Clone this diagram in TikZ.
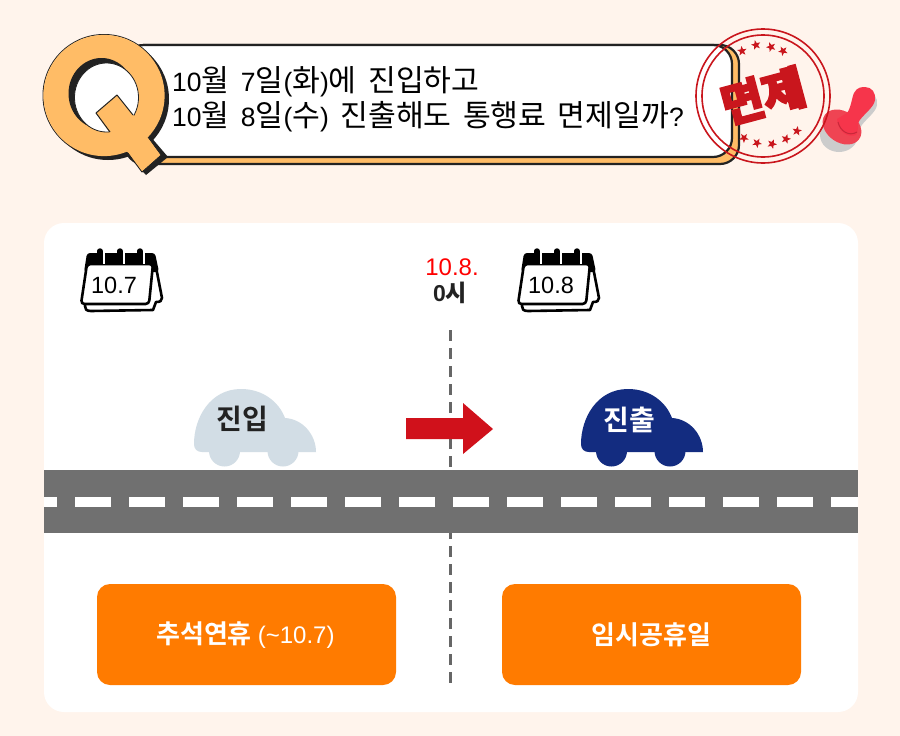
\documentclass[tikz,border=0pt]{standalone}
\usepackage{fontspec}
\usetikzlibrary{shapes.geometric}
\setmainfont{Liberation Sans}
\newfontfamily\ko{Noto Sans CJK KR}
\newfontfamily\koq[Scale=1.14]{Noto Sans CJK KR}
\newfontfamily\kob{Noto Sans CJK KR Bold}
\newfontfamily\kostamp[FakeBold=6]{Noto Sans CJK KR Bold}
\definecolor{bgc}{HTML}{FFF4EC}
\definecolor{qor}{HTML}{FFBC66}
\definecolor{ink}{HTML}{222222}
\definecolor{road}{HTML}{707070}
\definecolor{btn}{HTML}{FF7B00}
\definecolor{stampred}{HTML}{C9161D}
\definecolor{arrowred}{HTML}{D0111B}
\definecolor{carlight}{HTML}{D2DDE5}
\definecolor{cardark}{HTML}{132C80}
\definecolor{handle}{HTML}{F6354B}
\definecolor{handleb}{HTML}{EF4453}
\definecolor{handled}{HTML}{C8283A}
\tikzset{
  x=1pt,y=-1pt,
  qtext/.style={anchor=base west,font=\fontsize{26.5}{26.5}\selectfont,inner sep=0pt,text=black},
  btnbox/.style={fill=btn,rounded corners=13pt},
  btntext/.style={text=white,inner sep=0pt,font=\fontsize{24}{24}\selectfont},
  cartext/.style={inner sep=0pt,font=\fontsize{28}{28}\selectfont\kob},
  stampstar/.style={star,star points=5,star point ratio=2.4,fill=stampred,inner sep=0pt,minimum size=10pt},
  caltext/.style={inner sep=0pt,font=\fontsize{23.5}{23.5}\selectfont,text=black},
}
\newcommand{\qs}{\hspace*{11.5pt}}
\newcommand{\mycar}[2]{%
  \begin{scope}[shift={(#1,0)}]
    \fill[#2] (316,452) -- (202,452) .. controls (197,452) and (194,449) .. (194,444)
      .. controls (194,418) and (210,389) .. (241,389)
      .. controls (263,389) and (279,402) .. (285,418)
      .. controls (303,419) and (316,435) .. (316,452) -- cycle;
    \fill[#2] (224.5,451) circle[radius=15.5];
    \fill[#2] (283,451) circle[radius=15.5];
  \end{scope}}
\newcommand{\mycal}[1]{%
  \begin{scope}[shift={(#1,0)}]
    \draw[line width=2.6pt,fill=white,line join=round] (155,262) -- (162,298) .. controls (162,301) and (160,302) .. (156,302) -- (153,310) -- (91,311) .. controls (86,311) and (85,309) .. (85,306) -- (88,270) -- cycle;
    \fill[black,rounded corners=3pt] (84,272) -- (87,253) -- (155,253) -- (159,272) -- cycle;
    \draw[line width=2.6pt,fill=white,rounded corners=3.5pt] (87,264) -- (153,264) -- (149,304) -- (81,304) -- cycle;
    \foreach \r in {100,120,140}{
      \draw[white,line width=1.4pt] (\r+4,250) -- (\r+4,264);
      \draw[line width=5.4pt,line cap=round] (\r,251) -- (\r,258);
    }
  \end{scope}}
\newcommand{\handleshape}{(837,119) -- (847,113) .. controls (851,108) and (852,97) .. (854,93) .. controls (857,87) and (862,87) .. (865,87) .. controls (872,87) and (876,93) .. (875,100) .. controls (874,108) and (862,115) .. (858,123) .. controls (858,128) and (858,131) .. (856,135) .. controls (848,138) and (838,132) .. (837,119) -- cycle}
\begin{document}
\begin{tikzpicture}
\useasboundingbox (0,0) rectangle (900,736);
\fill[bgc] (0,0) rectangle (900,736);
% banner
\draw[ink,line width=2.2pt,fill=qor,rounded corners=19pt] (125,45) rectangle (739,164);
\draw[ink,line width=2.2pt,fill=white,rounded corners=19pt] (125,45) rectangle (732,157);
% Q
\fill[ink] (108,99) circle[radius=61];
\fill[ink] (128,156) -- (146,175) -- (168,157) -- (150,136) -- cycle;
\draw[ink,line width=1pt,fill=qor,line join=round] (128,153) -- (142,172) -- (161,155) -- (148,137) -- (135,130) -- (118,150) -- cycle;
\draw[ink,line width=1pt] (104,95.5) circle[radius=61];
\fill[qor] (104,95.5) circle[radius=60.6];
\fill[qor] (128.5,152.5) -- (142,171) -- (160.3,155) -- (147,137) -- (135,125) -- (115,145) -- cycle;
\fill[ink] (101.5,93.5) ellipse[x radius=33,y radius=35.5];
\fill[white] (106.5,97.5) ellipse[x radius=32,y radius=34.5];
\draw[ink,line width=.8pt] (106.5,97.5) ellipse[x radius=32,y radius=34.5];
\fill[qor] (117,95) -- (96,113) -- (112,136) -- (130,140) -- (143,125) -- (133,115) -- cycle;
\draw[ink,line width=1pt,line join=round] (133,115) -- (117,95) -- (96,113) -- (110,132);
% question text
\node[qtext] (line1) at (172,91) {10{\koq 월}\qs 7{\koq 일}({\koq 화}){\koq 에}\qs{\koq 진입하고}};
\node[qtext] (line2) at (172,126) {10{\koq 월}\qs 8{\koq 일}({\koq 수})\qs{\koq 진출해도}\qs{\koq 통행료}\qs{\koq 면제일까}?};
% rubber stamp
\begin{scope}[shift={(-3,8)}]
  \fill[black!20] (842,127) ellipse[x radius=19,y radius=17];
\end{scope}
\begin{scope}[shift={(2,5)}]
  \fill[black!20] \handleshape;
\end{scope}
\begin{scope}[shift={(842,127)},rotate=-35]
  \fill[handleb] (0,0) ellipse[x radius=21,y radius=15.5];
\end{scope}
\fill[handle] \handleshape;
\draw[handled,line width=1pt] (838,122) .. controls (840,131) and (849,137) .. (857,132);
% stamp rings
\draw[stampred,line width=1.6pt] (763,96) circle[radius=67];
\draw[stampred,line width=1.6pt] (763,96) circle[radius=61];
\foreach \sx/\sy [count=\si] in {742/51,756/45,771/47,783/51,744/138,757/143,772/144,786/139,797/131}
  \node[stampstar,rotate=\si*7] (star\si) at (\sx,\sy) {};
\node[rotate=15,text=stampred,inner sep=0pt,font=\fontsize{46}{46}\selectfont\kostamp] (stamptext) at (763,96) {면제};
% panel
\fill[white,rounded corners=20pt] (44,223) rectangle (858,712);
% centre line
\draw[black!60,line width=3pt,dash pattern=on 11pt off 7pt] (450,330) -- (450,685);
% road
\fill[road] (44,470) rectangle (858,533);
\fill[white] (44,497) rectangle (57,507);
\foreach \k in {75,129,...,777}
  \fill[white] (\k,497) rectangle (\k+36,507);
\fill[white] (831,497) rectangle (858,507);
% cars
\mycar{0}{carlight}
\mycar{387}{cardark}
\node[cartext,text=ink] (entry) at (242,419) {진입};
\node[cartext,text=white] (exit) at (629,420) {진출};
% arrow
\fill[arrowred] (406,418) -- (463,418) -- (463,403) -- (493,429) -- (463,454) -- (463,439) -- (406,439) -- cycle;
% calendars
\mycal{0}
\mycal{437}
\node[caltext] (cal1) at (114,285) {10.7};
\node[caltext] (cal2) at (551,285) {10.8};
% time
\node[inner sep=0pt,text={rgb,255:red,255;green,0;blue,0},font=\fontsize{24}{24}\selectfont] (date) at (452,267) {10.8.};
\node[inner sep=0pt,text=ink,font=\fontsize{23}{23}\selectfont\bfseries] (hour) at (450,293) {0{\kob 시}};
% buttons
\fill[btnbox] (97,584) rectangle (396,685);
\fill[btnbox] (502,584) rectangle (801,685);
\node[btntext,anchor=base west] (b1) at (156,643) {{\fontsize{26}{26}\selectfont\kob 추석연휴}\hspace*{6pt}(\textasciitilde 10.7)};
\node[btntext] (b2) at (651.5,635) {{\fontsize{26}{26}\selectfont\kob 임시공휴일}};
\end{tikzpicture}
\end{document}
